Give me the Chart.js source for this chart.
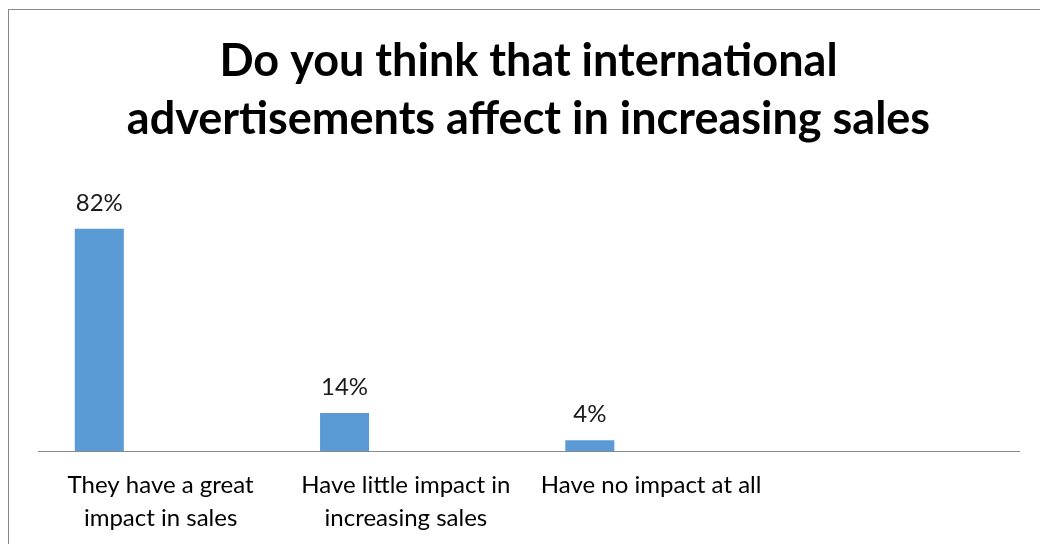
<!DOCTYPE html>
<html>
<head>
<meta charset="utf-8">
<script src="https://cdn.jsdelivr.net/npm/chart.js@4"></script>
<style>
    html, body { margin: 0; padding: 0; background: #fff; }
    #wrap { width: 1040px; height: 544px; position: relative; }
</style>
</head>
<body>
<div id="wrap"><canvas id="salesChart"></canvas></div>
<script>
const titleLines = ["Do you think that international", "advertisements affect in increasing sales"];
const categories = [
    ["They have a great", "impact in sales"],
    ["Have little impact in", "increasing sales"],
    ["Have no impact at all"],
    ""
];
const percents = [82, 14, 4, null];
const emptySeries = [null, null, null, null]; // Excel left a blank second series
const BLUE = "#5B9BD5";
const FONT = "Lato, 'Liberation Sans', sans-serif";

// grey frame of the chart box (cropped at right/bottom)
const frame = {
    id: "frame",
    beforeDraw(chart) {
        let ctx = chart.ctx;
        ctx.save();
        ctx.fillStyle = "#fff";
        ctx.fillRect(0, 0, chart.width, chart.height);
        ctx.strokeStyle = "#8a8a8a";
        ctx.lineWidth = 1;
        ctx.strokeRect(8.5, 9.5, 1200, 700);
        ctx.restore();
    }
};

// value labels above bars
const valueLabels = {
    id: "valueLabels",
    afterDatasetsDraw(chart) {
        let ctx = chart.ctx;
        let meta = chart.getDatasetMeta(0);
        ctx.save();
        ctx.font = "24px " + FONT;
        ctx.fillStyle = "#1a1a1a";
        ctx.textAlign = "center";
        ctx.textBaseline = "middle";
        meta.data.forEach((bar, i) => {
            if (percents[i] == null) return;
            ctx.fillText(percents[i] + "%", bar.x, bar.y - 26);
        });
        ctx.restore();
    }
};

new Chart(document.getElementById("salesChart"), {
    type: "bar",
    data: {
        labels: categories,
        datasets: [{
            data: percents,
            backgroundColor: BLUE,
            borderWidth: 0
        }, {
            data: emptySeries,
            backgroundColor: BLUE,
            borderWidth: 0
        }]
    },
    options: {
        responsive: true,
        maintainAspectRatio: false,
        animation: false,
        datasets: { bar: { barPercentage: 0.4, categoryPercentage: 1.0 } },
        layout: { padding: { left: 38, right: 21, top: 0, bottom: 0 } },
        plugins: {
            legend: { display: false },
            tooltip: { enabled: false },
            title: {
                display: true,
                text: titleLines,
                color: "#000",
                font: { family: FONT, size: 45, weight: "bold", lineHeight: 1.289 },
                padding: { top: 32, bottom: 32 }
            }
        },
        scales: {
            x: {
                grid: { display: false, drawTicks: false },
                border: { display: true, color: "#8a8a8a", width: 1 },
                ticks: {
                    color: "#000",
                    font: { family: FONT, size: 24, lineHeight: 1.36 },
                    padding: 18,
                    maxRotation: 0,
                    autoSkip: false
                },
                afterFit(scale) { scale.height = 93; }
            },
            y: {
                display: false,
                min: 0,
                max: 100
            }
        }
    },
    plugins: [frame, valueLabels]
});
</script>
</body>
</html>
